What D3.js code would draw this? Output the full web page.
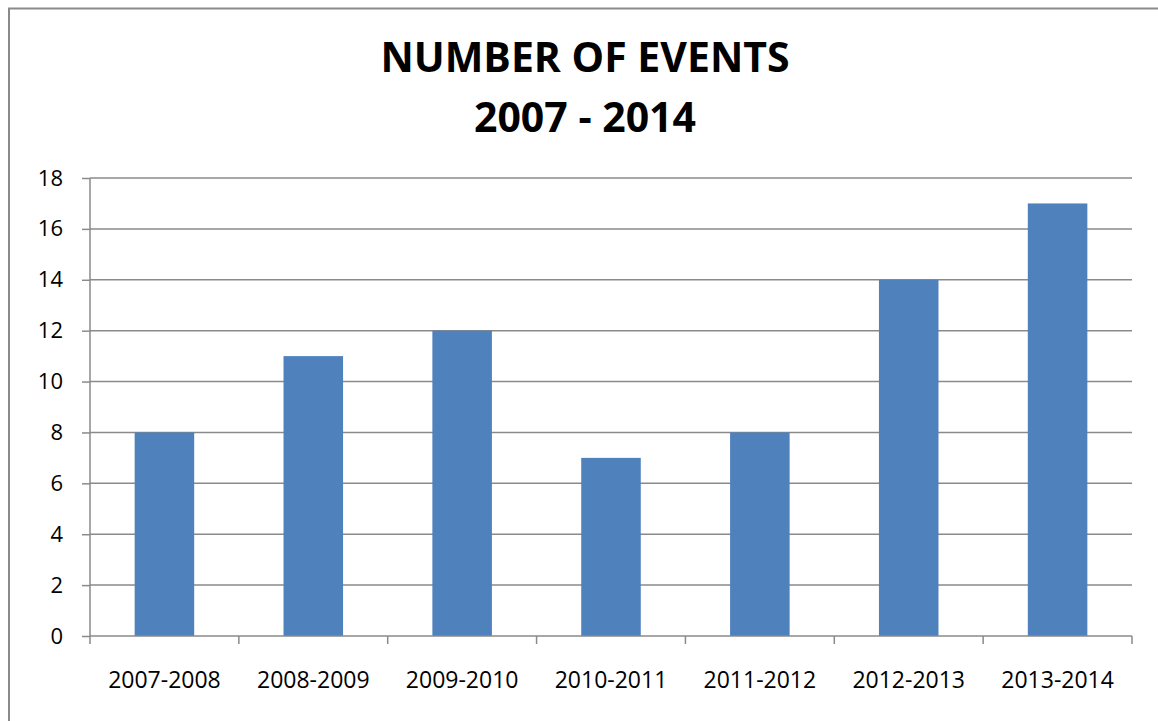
<!DOCTYPE html>
<html>
<head>
<meta charset="utf-8">
<script src="https://cdn.jsdelivr.net/npm/d3@7"></script>
<style>
  body { margin: 0; background: #fff; }
  svg { display: block; }
  .tick text { font-family: "Open Sans", sans-serif; fill: #000; }
</style>
</head>
<body>
<div class="container"></div>
<script>
const seasons = ["2007-2008", "2008-2009", "2009-2010", "2010-2011", "2011-2012", "2012-2013", "2013-2014"];
const events = [8, 11, 12, 7, 8, 14, 17];
const yTicks = [0, 2, 4, 6, 8, 10, 12, 14, 16, 18];
const titleLines = ["NUMBER OF EVENTS", "2007 - 2014"];

const W = 1158, H = 721;
const plotLeft = 90, plotRight = 1132, plotTop = 178, plotBottom = 636;
const gridColor = "#8a8a8a";

const svg = d3.select(".container")
  .append("svg")
  .attr("width", W)
  .attr("height", H);

//Outer chart border (right and bottom run off the picture)
svg.append("path")
  .attr("d", `M9,${H + 5} L9,8.5 L${W + 5},8.5`)
  .attr("fill", "none")
  .attr("stroke", gridColor)
  .attr("stroke-width", 2);

//Title
svg.append("g")
  .selectAll("text")
  .data(titleLines)
  .enter()
  .append("text")
  .attr("x", 585)
  .attr("y", (d, i) => 72 + i * 60)
  .attr("text-anchor", "middle")
  .style("font-family", "'Open Sans', sans-serif")
  .style("font-weight", "bold")
  .style("font-size", "41px")
  .text(d => d);

//Scales
const xScale = d3.scaleBand()
  .domain(seasons)
  .range([plotLeft, plotRight])
  .paddingInner(0.6)
  .paddingOuter(0.3);

const bandStep = (plotRight - plotLeft) / seasons.length;

const yScale = d3.scaleLinear()
  .domain([0, 18])
  .range([plotBottom, plotTop]);

//Gridlines
svg.append("g")
  .selectAll("line")
  .data(yTicks.filter(t => t > 0))
  .enter()
  .append("line")
  .attr("x1", plotLeft)
  .attr("x2", plotRight)
  .attr("y1", d => yScale(d))
  .attr("y2", d => yScale(d))
  .attr("stroke", gridColor)
  .attr("stroke-width", 1.5);

//Bars
svg.append("g")
  .selectAll("rect")
  .data(events)
  .enter()
  .append("rect")
  .attr("x", (d, i) => xScale(seasons[i]))
  .attr("y", d => yScale(d))
  .attr("width", xScale.bandwidth())
  .attr("height", d => plotBottom - yScale(d))
  .attr("fill", "#4f81bd");

//Y axis
const yAxis = d3.axisLeft(yScale)
  .tickValues(yTicks)
  .tickSize(8)
  .tickPadding(19);

const yAxisGroup = svg.append("g")
  .attr("transform", `translate(${plotLeft},0)`)
  .call(yAxis);
yAxisGroup.select(".domain").remove();
yAxisGroup.append("line")
  .attr("x1", 0).attr("x2", 0)
  .attr("y1", plotTop).attr("y2", plotBottom)
  .attr("stroke", gridColor)
  .attr("stroke-width", 1.5);
yAxisGroup.selectAll(".tick line").attr("stroke", gridColor).attr("stroke-width", 1.5);
yAxisGroup.selectAll(".tick text").style("font-size", "22px");

//X axis
const xAxis = d3.axisBottom(xScale)
  .tickSize(0)
  .tickPadding(36);

const xAxisGroup = svg.append("g")
  .attr("transform", `translate(0,${plotBottom})`)
  .call(xAxis);
xAxisGroup.select(".domain").remove();
xAxisGroup.selectAll(".tick text").style("font-size", "23px");
xAxisGroup.append("line")
  .attr("x1", plotLeft).attr("x2", plotRight)
  .attr("y1", 0).attr("y2", 0)
  .attr("stroke", gridColor)
  .attr("stroke-width", 1.5);
//Category boundary ticks
xAxisGroup.append("g")
  .selectAll("line")
  .data(d3.range(seasons.length + 1))
  .enter()
  .append("line")
  .attr("x1", i => plotLeft + i * bandStep)
  .attr("x2", i => plotLeft + i * bandStep)
  .attr("y1", 0)
  .attr("y2", 8)
  .attr("stroke", gridColor)
  .attr("stroke-width", 1.5);
</script>
</body>
</html>
